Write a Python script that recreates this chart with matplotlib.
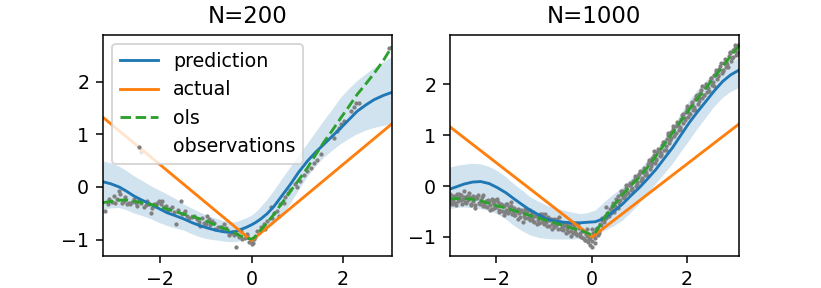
import numpy as np
import matplotlib
matplotlib.use("Agg")
import matplotlib.pyplot as plt

# --- N=200 panel ---
xlim200 = (-3.26, 3.07)
ylim200 = (-1.32, 2.90)

pred200_x = [-3.26, -3.08, -2.9, -2.74, -2.58, -2.40, -2.21, -2.03, -1.85, -1.66,
             -1.48, -1.30, -1.12, -0.93, -0.75, -0.60, -0.45, -0.34, -0.24, -0.12,
             0.0, 0.1, 0.2, 0.34, 0.49, 0.67, 0.85, 1.03, 1.22, 1.40,
             1.58, 1.77, 1.95, 2.13, 2.31, 2.50, 2.68, 2.88, 3.07]
pred200_y = [0.10, 0.06, 0.00, -0.08, -0.17, -0.25, -0.33, -0.41, -0.49, -0.55,
             -0.61, -0.68, -0.74, -0.79, -0.83, -0.855, -0.86, -0.845, -0.81, -0.77,
             -0.72, -0.67, -0.61, -0.51, -0.37, -0.16, 0.05, 0.28, 0.49, 0.66,
             0.81, 0.97, 1.12, 1.28, 1.44, 1.56, 1.66, 1.74, 1.80]
upper200 = [0.49, 0.45, 0.39, 0.31, 0.21, 0.12, 0.02, -0.06, -0.14, -0.23,
            -0.33, -0.41, -0.49, -0.56, -0.61, -0.65, -0.67, -0.67, -0.64, -0.60,
            -0.55, -0.48, -0.39, -0.25, -0.08, 0.15, 0.37, 0.59, 0.81, 1.03,
            1.25, 1.47, 1.69, 1.86, 2.01, 2.14, 2.26, 2.37, 2.47]
lower200 = [-0.43, -0.41, -0.40, -0.44, -0.50, -0.55, -0.61, -0.68, -0.74, -0.79,
            -0.83, -0.90, -0.96, -1.00, -1.02, -1.04, -1.05, -1.05, -1.03, -0.99,
            -0.95, -0.92, -0.88, -0.81, -0.71, -0.54, -0.33, -0.07, 0.18, 0.38,
            0.55, 0.69, 0.81, 0.91, 1.00, 1.07, 1.12, 1.16, 1.19]

ols200_x = [-3.26, -3.05, -2.87, -2.72, -2.58, -2.40, -2.21, -2.03, -1.85, -1.66,
            -1.48, -1.30, -1.12, -0.93, -0.75, -0.57, -0.39, -0.27, -0.17, -0.08,
            0.0, 0.06, 0.12, 0.3, 0.49, 0.67, 0.85, 1.03, 1.22, 1.40,
            1.58, 1.77, 1.95, 2.13, 2.31, 2.50, 2.68, 2.88, 3.07]
ols200_y = [-0.30, -0.27, -0.25, -0.25, -0.27, -0.30, -0.33, -0.37, -0.42, -0.47,
            -0.52, -0.56, -0.61, -0.67, -0.74, -0.80, -0.87, -0.92, -0.96, -0.98,
            -0.99, -0.96, -0.90, -0.72, -0.52, -0.30, -0.08, 0.13, 0.36, 0.61,
            0.85, 1.08, 1.31, 1.53, 1.76, 1.96, 2.16, 2.40, 2.67]

actual200_x = [-3.26, 0.0, 3.07]
actual200_y = [1.33, -1.02, 1.20]

obs200_x = [-3.20, -3.12, -3.01, -2.98, -2.91, -2.87, -2.80, -2.72, -2.69, -2.65,
            -2.58, -2.50, -2.43, -2.43, -2.36, -2.28, -2.21, -2.14, -2.07, -2.03,
            -1.96, -1.92, -1.85, -1.74, -1.66, -1.55, -1.48, -1.41, -1.30, -1.19,
            -1.12, -1.04, -0.97, -0.93, -0.86, -0.79, -0.68, -0.61, -0.53, -0.46,
            -0.35, -0.28, -0.20, -0.10,
            -3.15, -3.05, -2.95, -2.84, -2.76, -2.62, -2.54, -2.46, -2.32, -2.25,
            -2.17, -2.10, -1.99, -1.88, -1.80, -1.70, -1.62, -1.52, -1.45, -1.36,
            -1.25, -1.15, -1.08, -1.00, -0.90, -0.82, -0.74, -0.65, -0.57, -0.50,
            -0.42, -0.38, -0.31, -0.24, -0.15, -0.05,
            -0.09, -0.02, 0.01, 0.05, 0.12, 0.20, 0.27, 0.34, 0.42, 0.49,
            0.56, 0.63, 0.71, 0.74, 1.22, 1.29, 1.36, 1.44, 1.51, 1.80,
            1.88, 1.91, 1.95, 2.02, 2.17, 2.24, 2.28, 2.35, 3.01,
            0.03, 0.08, 0.30, 0.45, 0.60, 0.85, 0.95, 1.05, 1.15, 0.80, 1.00]
obs200_y = [-0.45, -0.23, -0.17, -0.30, -0.08, -0.14, -0.27, -0.33, -0.30, -0.33,
            -0.23, -0.36, -0.30, 0.67, -0.39, -0.27, -0.49, -0.33, -0.30, -0.27,
            -0.27, -0.39, -0.45, -0.39, -0.71, -0.27, -0.49, -0.55, -0.58, -0.61,
            -0.74, -0.68, -0.55, -0.61, -0.64, -0.80, -0.77, -0.71, -0.83, -0.87,
            -1.14, -0.96, -0.99, -0.93,
            -0.32, -0.28, -0.22, -0.31, -0.20, -0.28, -0.31, -0.25, -0.34, -0.32,
            -0.40, -0.36, -0.33, -0.36, -0.42, -0.48, -0.44, -0.52, -0.46, -0.60,
            -0.55, -0.66, -0.60, -0.70, -0.72, -0.68, -0.76, -0.82, -0.78, -0.92,
            -0.85, -0.92, -0.90, -0.83, -0.97, -1.05,
            -0.90, -1.02, -1.09, -0.99, -0.83, -0.77, -0.71, -0.64, -0.39, -0.49,
            -0.45, -0.33, -0.30, -0.20, 0.30, 0.37, 0.46, 0.52, 0.62, 0.93,
            1.06, 1.12, 1.19, 1.25, 1.44, 1.53, 1.60, 1.60, 2.64,
            -1.06, -0.95, -0.80, -0.60, -0.55, -0.05, 0.05, 0.12, 0.22, -0.12, 0.00]

# --- N=1000 panel ---
xlim1000 = (-2.98, 3.09)
ylim1000 = (-1.38, 2.98)

pred1000_x = [-2.98, -2.83, -2.68, -2.50, -2.33, -2.15, -1.98, -1.80, -1.63, -1.45,
              -1.28, -1.10, -0.93, -0.75, -0.58, -0.40, -0.23, -0.08, 0.08, 0.19,
              0.30, 0.47, 0.65, 0.82, 1.0, 1.17, 1.35, 1.52, 1.70, 1.87,
              2.05, 2.22, 2.40, 2.57, 2.75, 2.92, 3.09]
pred1000_y = [-0.06, -0.01, 0.04, 0.08, 0.09, 0.05, -0.03, -0.13, -0.25, -0.37,
              -0.48, -0.57, -0.65, -0.69, -0.71, -0.72, -0.72, -0.71, -0.70, -0.66,
              -0.61, -0.49, -0.35, -0.19, -0.03, 0.14, 0.33, 0.54, 0.76, 1.00,
              1.25, 1.46, 1.67, 1.87, 2.06, 2.19, 2.28]
upper1000 = [0.36, 0.40, 0.42, 0.44, 0.43, 0.38, 0.30, 0.18, 0.04, -0.09,
             -0.22, -0.31, -0.39, -0.44, -0.48, -0.52, -0.55, -0.53, -0.48, -0.39,
             -0.29, -0.16, -0.03, 0.13, 0.30, 0.49, 0.69, 0.91, 1.15, 1.41,
             1.67, 1.88, 2.06, 2.21, 2.32, 2.43, 2.52]
lower1000 = [-0.45, -0.43, -0.42, -0.43, -0.45, -0.49, -0.55, -0.65, -0.78, -0.89,
             -0.97, -1.02, -1.04, -1.05, -1.05, -1.05, -1.04, -1.00, -0.95, -0.91,
             -0.87, -0.79, -0.68, -0.53, -0.35, -0.15, 0.04, 0.23, 0.43, 0.66,
             0.89, 1.12, 1.34, 1.55, 1.73, 1.85, 1.93]

ols1000_x = [-2.98, -2.83, -2.68, -2.50, -2.33, -2.15, -1.98, -1.80, -1.63, -1.45,
             -1.28, -1.10, -0.93, -0.75, -0.58, -0.40, -0.23, -0.12, -0.05, 0.0,
             0.05, 0.1, 0.2, 0.30, 0.47, 0.65, 0.82, 1.0, 1.17, 1.35,
             1.52, 1.70, 1.87, 2.05, 2.22, 2.40, 2.57, 2.75, 2.92, 3.09]
ols1000_y = [-0.25, -0.245, -0.24, -0.26, -0.29, -0.34, -0.39, -0.43, -0.48, -0.53,
             -0.58, -0.63, -0.68, -0.73, -0.78, -0.83, -0.87, -0.91, -0.94, -0.96,
             -0.94, -0.88, -0.73, -0.58, -0.37, -0.16, 0.01, 0.17, 0.37, 0.59,
             0.82, 1.05, 1.28, 1.51, 1.72, 1.93, 2.14, 2.35, 2.56, 2.76]

actual1000_x = [-2.98, 0.01, 3.09]
actual1000_y = [1.17, -1.00, 1.22]

obs1000_x = [
    -3.00, -2.975, -2.95, -2.925, -2.90, -2.875, -2.85, -2.825, -2.80, -2.775,
    -2.75, -2.725, -2.70, -2.675, -2.65, -2.625, -2.60, -2.575, -2.55, -2.525,
    -2.50, -2.475, -2.45, -2.425, -2.40, -2.375, -2.35, -2.325, -2.30, -2.275,
    -2.25, -2.225, -2.20, -2.175, -2.15, -2.125, -2.10, -2.075, -2.05, -2.025,
    -2.00, -1.975, -1.95, -1.925, -1.90, -1.875, -1.85, -1.825, -1.80, -1.775,
    -1.75, -1.725, -1.70, -1.675, -1.65, -1.625, -1.60, -1.575, -1.55, -1.525,
    -1.50, -1.475, -1.45, -1.425, -1.40, -1.375, -1.35, -1.325, -1.30, -1.275,
    -1.25, -1.225, -1.20, -1.175, -1.15, -1.125, -1.10, -1.075, -1.05, -1.025,
    -1.00, -0.975, -0.95, -0.925, -0.90, -0.875, -0.85, -0.825, -0.80, -0.775,
    -0.75, -0.725, -0.70, -0.675, -0.65, -0.625, -0.60, -0.575, -0.55, -0.525,
    -0.50, -0.475, -0.45, -0.425, -0.40, -0.375, -0.35, -0.325, -0.30, -0.275,
    -0.25, -0.225, -0.20, -0.175, -0.15, -0.125, -0.10, -0.075, -0.05, -0.025,
    0.00, 0.025, 0.05, 0.075, 0.10, 0.125, 0.15, 0.175, 0.20, 0.225,
    0.25, 0.275, 0.30, 0.325, 0.35, 0.375, 0.40, 0.425, 0.45, 0.475,
    0.50, 0.525, 0.55, 0.575, 0.60, 0.625, 0.65, 0.675, 0.70, 0.725,
    0.75, 0.775, 0.80, 0.825, 0.85, 0.875, 0.90, 0.925, 0.95, 0.975,
    1.00, 1.025, 1.05, 1.075, 1.10, 1.125, 1.15, 1.175, 1.20, 1.225,
    1.25, 1.275, 1.30, 1.325, 1.35, 1.375, 1.40, 1.425, 1.45, 1.475,
    1.50, 1.525, 1.55, 1.575, 1.60, 1.625, 1.65, 1.675, 1.70, 1.725,
    1.75, 1.775, 1.80, 1.825, 1.85, 1.875, 1.90, 1.925, 1.95, 1.975,
    2.00, 2.025, 2.05, 2.075, 2.10, 2.125, 2.15, 2.175, 2.20, 2.225,
    2.25, 2.275, 2.30, 2.325, 2.35, 2.375, 2.40, 2.425, 2.45, 2.475,
    2.50, 2.525, 2.55, 2.575, 2.60, 2.625, 2.65, 2.675, 2.70, 2.725,
    2.75, 2.775, 2.80, 2.825, 2.85, 2.875, 2.90, 2.925, 2.95, 2.975,
    3.00, 3.025, 3.05, 3.075, 0.01]
obs1000_y = [
    -0.22, -0.31, -0.18, -0.29, -0.27, -0.33, -0.20, -0.15, -0.30, -0.24,
    -0.17, -0.36, -0.26, -0.21, -0.32, -0.19, -0.28, -0.14, -0.21, -0.35,
    -0.30, -0.25, -0.38, -0.22, -0.24, -0.33, -0.36, -0.27, -0.22, -0.40,
    -0.34, -0.29, -0.41, -0.27, -0.30, -0.38, -0.44, -0.32, -0.35, -0.27,
    -0.42, -0.31, -0.46, -0.37, -0.35, -0.48, -0.39, -0.50, -0.47, -0.36,
    -0.52, -0.41, -0.40, -0.55, -0.50, -0.43, -0.57, -0.46, -0.44, -0.53,
    -0.60, -0.49, -0.50, -0.58, -0.63, -0.52, -0.48, -0.60, -0.66, -0.55,
    -0.62, -0.51, -0.70, -0.57, -0.58, -0.67, -0.72, -0.60, -0.55, -0.69,
    -0.74, -0.63, -0.70, -0.61, -0.78, -0.66, -0.64, -0.75, -0.81, -0.69,
    -0.76, -0.65, -0.84, -0.71, -0.72, -0.80, -0.87, -0.74, -0.76, -0.85,
    -0.90, -0.79, -0.77, -0.88, -0.93, -0.81, -0.84, -0.95, -0.96, -0.83,
    -0.92, -1.00, -0.87, -1.02, -1.05, -0.95, -0.98, -1.10, -1.03, -1.15,
    -1.08, -0.93, -0.99, -1.12, -0.85, -0.96, -0.88, -0.74, -0.77, -0.66,
    -0.71, -0.58, -0.63, -0.52, -0.58, -0.44, -0.52, -0.40, -0.33, -0.47,
    -0.40, -0.27, -0.20, -0.34, -0.28, -0.15, -0.10, -0.23, -0.17, -0.03,
    -0.12, 0.02, 0.06, -0.07, -0.03, 0.11, 0.14, 0.01, 0.05, 0.19,
    0.24, 0.10, 0.16, 0.30, 0.36, 0.22, 0.28, 0.43, 0.48, 0.34,
    0.40, 0.55, 0.61, 0.46, 0.52, 0.67, 0.73, 0.59, 0.65, 0.80,
    0.87, 0.72, 0.78, 0.93, 1.00, 0.85, 0.91, 1.06, 1.13, 0.98,
    1.04, 1.19, 1.26, 1.10, 1.17, 1.32, 1.39, 1.24, 1.30, 1.45,
    1.52, 1.36, 1.43, 1.58, 1.65, 1.50, 1.56, 1.71, 1.77, 1.62,
    1.68, 1.83, 1.89, 1.74, 1.80, 1.95, 2.01, 1.86, 1.92, 2.07,
    2.13, 1.98, 2.04, 2.19, 2.25, 2.10, 2.16, 2.31, 2.37, 2.22,
    2.28, 2.43, 2.49, 2.34, 2.40, 2.55, 2.61, 2.46, 2.52, 2.67,
    2.72, 2.58, 2.64, 2.78, -1.20]

obs1000b_x = [
    -2.99, -2.94, -2.89, -2.84, -2.79, -2.74, -2.69, -2.64, -2.59, -2.54,
    -2.49, -2.44, -2.39, -2.34, -2.29, -2.24, -2.19, -2.14, -2.09, -2.04,
    -1.99, -1.94, -1.89, -1.84, -1.79, -1.74, -1.69, -1.64, -1.59, -1.54,
    -1.49, -1.44, -1.39, -1.34, -1.29, -1.24, -1.19, -1.14, -1.09, -1.04,
    -0.99, -0.94, -0.89, -0.84, -0.79, -0.74, -0.69, -0.64, -0.59, -0.54,
    -0.49, -0.44, -0.39, -0.34, -0.29, -0.24, -0.19, -0.14, -0.09, -0.04,
    0.01, 0.06, 0.11, 0.16, 0.21, 0.26, 0.31, 0.36, 0.41, 0.46,
    0.51, 0.56, 0.61, 0.66, 0.71, 0.76, 0.81, 0.86, 0.91, 0.96,
    1.01, 1.06, 1.11, 1.16, 1.21, 1.26, 1.31, 1.36, 1.41, 1.46,
    1.51, 1.56, 1.61, 1.66, 1.71, 1.76, 1.81, 1.86, 1.91, 1.96,
    2.01, 2.06, 2.11, 2.16, 2.21, 2.26, 2.31, 2.36, 2.41, 2.46,
    2.51, 2.56, 2.61, 2.66, 2.71, 2.76, 2.81, 2.86, 2.91, 2.96,
    3.01, 3.06]
obs1000b_y = [
    -0.13, -0.35, -0.20, -0.38, -0.15, -0.27, -0.09, -0.33, -0.24, -0.38,
    -0.19, -0.43, -0.17, -0.34, -0.17, -0.40, -0.30, -0.47, -0.25, -0.43,
    -0.26, -0.50, -0.37, -0.57, -0.35, -0.49, -0.32, -0.57, -0.49, -0.64,
    -0.46, -0.71, -0.45, -0.63, -0.46, -0.69, -0.59, -0.75, -0.54, -0.71,
    -0.55, -0.78, -0.66, -0.85, -0.64, -0.77, -0.61, -0.85, -0.78, -0.92,
    -0.75, -0.99, -0.74, -0.91, -0.75, -0.98, -0.89, -1.06, -0.85, -1.02,
    -0.84, -1.02, -0.82, -0.92, -0.62, -0.67, -0.42, -0.59, -0.44, -0.51,
    -0.26, -0.43, -0.10, -0.21, 0.03, -0.14, 0.02, -0.09, 0.19, 0.08,
    0.30, 0.14, 0.34, 0.22, 0.51, 0.45, 0.70, 0.53, 0.69, 0.62,
    0.87, 0.71, 1.04, 0.95, 1.19, 1.04, 1.21, 1.13, 1.42, 1.33,
    1.57, 1.42, 1.62, 1.50, 1.79, 1.73, 1.97, 1.80, 1.95, 1.88,
    2.13, 1.96, 2.29, 2.19, 2.43, 2.27, 2.44, 2.35, 2.64, 2.54,
    2.78, 2.62]

fig, axes = plt.subplots(1, 2, figsize=(821 / 137, 288 / 137), dpi=137)

panels = [
    (axes[0], "N=200", pred200_x, pred200_y, upper200, lower200, actual200_x, actual200_y,
     ols200_x, ols200_y, obs200_x, obs200_y, xlim200, ylim200),
    (axes[1], "N=1000", pred1000_x, pred1000_y, upper1000, lower1000, actual1000_x, actual1000_y,
     ols1000_x, ols1000_y, obs1000_x + obs1000b_x, obs1000_y + obs1000b_y, xlim1000, ylim1000),
]

for (ax, title, px, py, up, lo, ax_x, ax_y, ox, oy, sx, sy, xl, yl) in panels:
    ax.plot(px, py, label="prediction")
    ax.fill_between(px, lo, up, alpha=0.2)
    ax.plot(ax_x, ax_y, label="actual")
    ax.plot(ox, oy, "--", label="ols")
    ax.scatter(sx, sy, s=1.5, c="grey", label="observations")
    ax.set_xlim(*xl)
    ax.set_ylim(*yl)
    ax.set_title(title)

axes[0].legend(loc="upper left")

plt.savefig("out.png", dpi=137)
